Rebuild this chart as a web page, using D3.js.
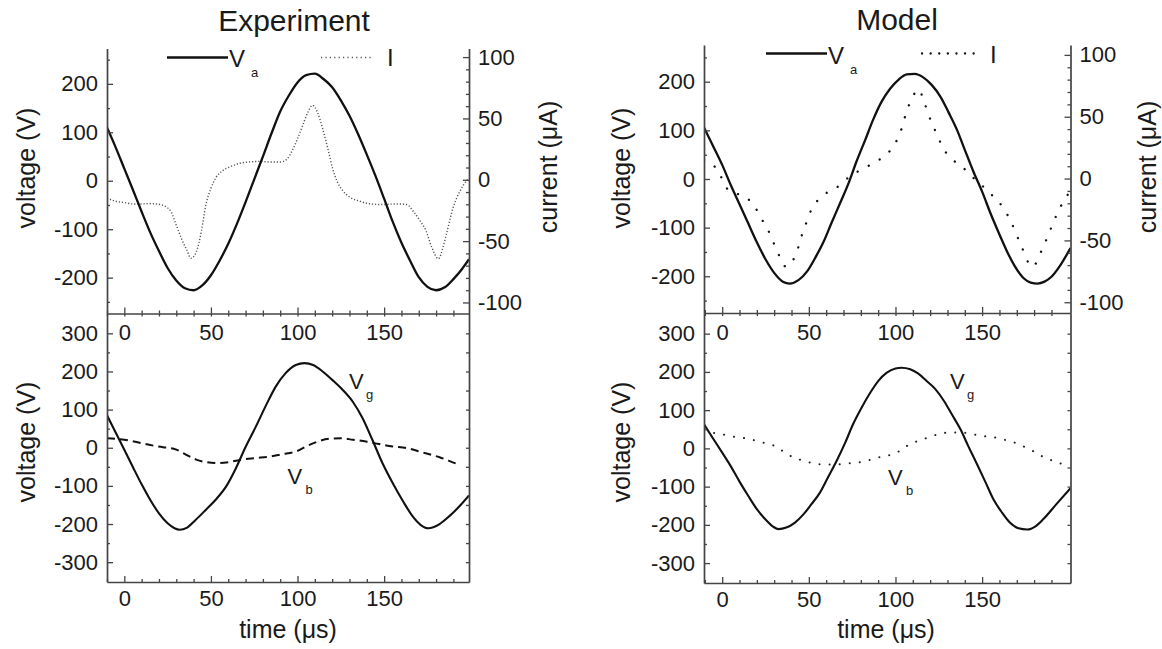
<!DOCTYPE html>
<html>
<head>
<meta charset="utf-8">
<script src="https://cdn.jsdelivr.net/npm/d3@7"></script>
<style>
  body { margin: 0; background: #fff; }
  svg text { font-family: "Liberation Sans", Arial, sans-serif; fill: #1a1a1a; }
  .axis path, .axis line { stroke: #444; }
  .axis .domain { stroke-width: 1.7; }
  .axis .tick line { stroke-width: 1.3; }
</style>
</head>
<body>
<svg id="chart" width="1162" height="649"></svg>
<script>
// tick values
const timeTicks = [0, 50, 100, 150];
const timeMinor = [-10, 10, 20, 30, 40, 60, 70, 80, 90, 110, 120, 130, 140, 160, 170, 180, 190];
const voltTicksTop = [-200, -100, 0, 100, 200];
const voltMinorTop = [-250, -150, -50, 50, 150, 250];
const currentTicks = [-100, -50, 0, 50, 100];
const currentMinor = [-90, -80, -70, -60, -40, -30, -20, -10, 10, 20, 30, 40, 60, 70, 80, 90];
const voltTicksBottom = [-300, -200, -100, 0, 100, 200, 300];
const voltMinorBottom = [-250, -150, -50, 50, 150, 250];

// Experiment: [time (us), value]
const expVa = [[-10,110],[-5,69],[0,25],[5,-19],[10,-64],[15,-107],[20,-145],[25,-180],[30,-206],[35,-222],[40,-226],[45,-216],[50,-195],[55,-165],[60,-130],[65,-89],[70,-44],[75,3],[80,50],[85,98],[90,143],[95,176],[100,203],[105,218],[110,221],[115,210],[120,193],[125,166],[130,134],[135,96],[140,54],[145,10],[150,-37],[155,-85],[160,-128],[165,-165],[170,-199],[175,-219],[180,-226],[185,-220],[190,-203],[195,-182],[199,-162]];
const expI = [[-10,-15],[-5,-17.5],[0,-18.6],[5,-19.7],[10,-19.7],[15,-19.4],[20,-20],[24,-22],[27,-26],[30,-37],[33,-48],[36,-57],[38.5,-64],[41.5,-59],[44.5,-42],[47,-21],[50,-7],[53,2],[57,7.7],[61,10.5],[66,13.2],[72,14.5],[78,15],[84,14.5],[90,14.5],[94,17],[97,24],[100,33.5],[103,44.4],[106,55],[108.7,60.7],[111.5,55],[114.5,41.7],[117.5,25.4],[120.3,9],[123,-1.8],[126,-8.6],[130,-14],[136,-17.5],[141,-19.4],[149,-20.2],[157,-19.7],[163,-20.2],[167,-26],[171,-34],[174,-41],[177.5,-55],[181.3,-64.4],[184,-55],[186,-44],[190,-22],[194,-8.7],[197.7,-0.6],[199,1]];
const expVg = [[-10,85],[-5,40],[0,-5],[5,-51],[10,-96],[15,-137],[20,-172],[25,-198],[29,-211],[32,-215],[36,-210],[41,-190],[47,-163],[53,-135],[59,-100],[64.5,-53],[70,2],[76,56],[82,113],[87.5,161],[93,195],[99,217],[104,222],[109,217],[114.5,200],[120,178],[126,152],[132,120],[137.5,78],[143,23],[149,-40],[155,-93],[161,-141],[166.5,-180],[171,-202],[175.5,-211],[182,-200],[188,-178],[194,-151],[199,-125]];
const expVb = [[-10,25],[0,21],[10,12],[19,3.5],[30,-5],[35.5,-18],[41.5,-31],[47,-37.5],[54,-40],[60.5,-37.5],[68,-31],[76,-27],[84,-23],[91,-17],[99,-10],[105,3.5],[111,15],[118,23.6],[125,25],[132,21],[139.5,16.6],[147,9.6],[155,3.5],[163,-1],[172,-12],[182,-25],[192,-42],[194,-45]];

// Model
const modVa = [[-10.5,106],[-5,66],[0,29],[5,-13],[10,-52],[15,-91],[20,-130],[25,-165],[30,-193],[35,-211],[39,-215],[44,-208],[49,-190],[54,-160],[58.5,-129],[63,-91],[68,-50],[73,-8],[77.5,36],[82.5,80],[87,121],[92,159],[97,186],[102,205],[106.5,215],[111,216],[116,209],[121,193],[126,169],[130.5,138],[135.5,101],[140,60],[145,15],[150,-26],[155,-72],[160,-114],[164.5,-150],[169,-180],[174,-204],[178,-213],[182,-215],[186,-211],[190,-201],[195,-178],[201,-142]];
const modI = [[-10.5,15],[-3.3,8],[4,-10],[8,-12],[15,-16.6],[20,-25.5],[23.7,-35],[27.2,-43.8],[30,-53],[33,-62.7],[36.8,-71.3],[41.4,-64.6],[43.9,-55.7],[46,-45.7],[48.4,-36.3],[50.7,-27.6],[54.5,-18.7],[61.3,-10.6],[67.6,-5.8],[73.8,2],[80.6,7.4],[86.9,12.3],[93.5,18.2],[99.3,27.1],[102.7,37],[106.6,55],[109.5,64.8],[113.3,72.1],[116.2,63.5],[118.5,54],[121,44.6],[124,35.7],[126.8,26.3],[131.6,17.1],[138.4,9.6],[145,0.5],[151,-7],[156.6,-14.7],[162.4,-24],[166.2,-33.6],[172,-52.4],[179,-71.3],[185,-56],[192.5,-31],[196.8,-18.8],[201,-10]];
const modVg = [[-10.5,63],[-5,24],[0,-11],[5,-47],[10,-87],[15,-124],[20,-159],[25,-186],[29.5,-205],[32.5,-211],[37,-207],[42,-194],[47,-172],[51.5,-146],[56.5,-115],[61,-76],[66,-33],[71,15],[75.5,63],[80.5,107],[85.5,146],[90,176],[95,198],[100,209],[103.5,211],[108.5,207],[113,196],[118,176],[123,155],[128,124],[132.5,89],[137.5,50],[142,6],[147,-41],[152,-89],[156.5,-133],[161.5,-168],[166,-194],[171,-209],[176,-212],[181,-203],[185.5,-184],[193,-145],[201,-104]];
const modVb = [[-10.5,42],[-4,40],[7,30],[13,26.6],[20,19.6],[25.5,12.6],[31.5,4],[37,-14],[43,-26.5],[49,-35],[54.5,-41],[60,-42],[66,-42],[73,-39],[78.5,-37],[84.5,-31],[90,-24],[97,-17],[102.5,-6.5],[107.5,9],[114,21],[120,30],[126,38.8],[131.5,41.4],[137.5,41.4],[143,38.8],[149,32.7],[155.5,30],[161.5,24],[167,18],[172,9],[179,-6],[184.5,-20.5],[190.5,-32],[196,-40.5],[200,-44]];

const curStyles = {
  exp: { stroke: '#555', width: 1.4, dash: '1.2 1.9', cap: 'butt' },
  mod: { stroke: '#111', width: 2.3, dash: '0.1 12.5', cap: 'round' }
};
const vbStyles = {
  exp: { stroke: '#111', width: 2, dash: '8 5', cap: 'butt' },
  mod: { stroke: '#222', width: 2, dash: '0.1 10', cap: 'round' }
};

const panels = [
  {
    id: 'exp', title: 'Experiment', titleX: 294, titleY: 30.5,
    left: 107, right: 469, top: 48.5, mid: 313.5, bottom: 582,
    tDomain: [-10, 199], vTop: [-274, 273], iDom: [-109, 107], vBot: [-352, 352],
    va: expVa, cur: expI, vg: expVg, vb: expVb,
    legend: { lineX: [167, 228], y: 57.5, vX: 229, vY: 66.5, subY: 77, dotX: [321, 373], iX: 387, iY: 65.5 },
    vgLab: [349, 388.5], vbLab: [287.5, 483.5],
    voltX: 26, curX: 547.5, timeX: 288
  },
  {
    id: 'mod', title: 'Model', titleX: 897, titleY: 29.5,
    left: 704, right: 1070.5, top: 45, mid: 313, bottom: 583,
    tDomain: [-10.5, 201], vTop: [-275.5, 275.5], iDom: [-108.7, 108], vBot: [-352, 354],
    va: modVa, cur: modI, vg: modVg, vb: modVb,
    legend: { lineX: [766, 827], y: 53.5, vX: 828, vY: 63.5, subY: 73.5, dotX: [922, 981], iX: 990, iY: 62.5 },
    vgLab: [950, 389], vbLab: [888, 484.5],
    voltX: 621, curX: 1147, timeX: 886
  }
];

const svg = d3.select('#chart');
const fontSans = '"Liberation Sans", Arial, sans-serif';

function styleAxis(g, size) {
  g.attr('class', 'axis').attr('font-size', size).attr('font-family', fontSans);
}

function minorAxis(axis) {
  return g => {
    g.call(axis.tickSize(-3).tickSizeOuter(0).tickFormat(''));
    g.select('.domain').remove();
    g.attr('class', 'axis');
  };
}

function drawText(x, y, str, size, anchor) {
  return svg.append('text')
    .attr('x', x).attr('y', y)
    .attr('font-size', size)
    .attr('text-anchor', anchor || 'start')
    .text(str);
}

function drawPanel(p) {
  const x = d3.scaleLinear().domain(p.tDomain).range([p.left, p.right]);
  const yV = d3.scaleLinear().domain(p.vTop).range([p.mid, p.top]);
  const yI = d3.scaleLinear().domain(p.iDom).range([p.mid, p.top]);
  const yB = d3.scaleLinear().domain(p.vBot).range([p.bottom, p.mid]);

  const defs = svg.append('defs');
  defs.append('clipPath').attr('id', `clip-top-${p.id}`)
    .append('rect').attr('x', p.left).attr('y', p.top)
    .attr('width', p.right - p.left).attr('height', p.mid - p.top);
  defs.append('clipPath').attr('id', `clip-bot-${p.id}`)
    .append('rect').attr('x', p.left).attr('y', p.mid)
    .attr('width', p.right - p.left).attr('height', p.bottom - p.mid);

  const lineV = d3.line().x(d => x(d[0])).y(d => yV(d[1])).curve(d3.curveMonotoneX);
  const lineI = d3.line().x(d => x(d[0])).y(d => yI(d[1])).curve(d3.curveMonotoneX);
  const lineB = d3.line().x(d => x(d[0])).y(d => yB(d[1])).curve(d3.curveMonotoneX);

  const cs = curStyles[p.id];
  const bs = vbStyles[p.id];

  const top = svg.append('g').attr('clip-path', `url(#clip-top-${p.id})`);
  top.append('path').datum(p.cur)
    .attr('d', lineI).attr('fill', 'none')
    .attr('stroke', cs.stroke).attr('stroke-width', cs.width)
    .attr('stroke-dasharray', cs.dash).attr('stroke-linecap', cs.cap);
  top.append('path').datum(p.va)
    .attr('d', lineV).attr('fill', 'none')
    .attr('stroke', '#111').attr('stroke-width', 2.3);

  const bot = svg.append('g').attr('clip-path', `url(#clip-bot-${p.id})`);
  bot.append('path').datum(p.vb)
    .attr('d', lineB).attr('fill', 'none')
    .attr('stroke', bs.stroke).attr('stroke-width', bs.width)
    .attr('stroke-dasharray', bs.dash).attr('stroke-linecap', bs.cap);
  bot.append('path').datum(p.vg)
    .attr('d', lineB).attr('fill', 'none')
    .attr('stroke', '#111').attr('stroke-width', 2.1);

  // top plot axes
  svg.append('g').attr('transform', `translate(${p.left},0)`)
    .call(minorAxis(d3.axisLeft(yV).tickValues(voltMinorTop)));
  svg.append('g').attr('transform', `translate(${p.left},0)`)
    .call(d3.axisLeft(yV).tickValues(voltTicksTop).tickSize(-6).tickSizeOuter(0)
      .tickPadding(9).tickFormat(d => String(d)))
    .call(g => styleAxis(g, 22));

  svg.append('g').attr('transform', `translate(${p.right},0)`)
    .call(minorAxis(d3.axisRight(yI).tickValues(currentMinor)));
  svg.append('g').attr('transform', `translate(${p.right},0)`)
    .call(d3.axisRight(yI).tickValues(currentTicks).tickSize(-6).tickSizeOuter(0)
      .tickPadding(9).tickFormat(d => String(d)))
    .call(g => styleAxis(g, 22));

  svg.append('g').attr('transform', `translate(0,${p.mid})`)
    .call(minorAxis(d3.axisBottom(x).tickValues(timeMinor)));
  svg.append('g').attr('transform', `translate(0,${p.mid})`)
    .call(d3.axisBottom(x).tickValues(timeTicks).tickSize(-6).tickSizeOuter(0)
      .tickPadding(11).tickFormat(d => String(d)))
    .call(g => styleAxis(g, 22));

  // bottom plot axes
  svg.append('g').attr('transform', `translate(0,${p.mid})`)
    .call(minorAxis(d3.axisTop(x).tickValues(timeMinor)));
  svg.append('g').attr('transform', `translate(0,${p.mid})`)
    .call(minorAxis(d3.axisTop(x).tickValues(timeTicks)));

  svg.append('g').attr('transform', `translate(${p.left},0)`)
    .call(minorAxis(d3.axisLeft(yB).tickValues(voltMinorBottom)));
  svg.append('g').attr('transform', `translate(${p.left},0)`)
    .call(d3.axisLeft(yB).tickValues(voltTicksBottom).tickSize(-6).tickSizeOuter(0)
      .tickPadding(9).tickFormat(d => String(d)))
    .call(g => styleAxis(g, 22));

  svg.append('g').attr('transform', `translate(${p.right},0)`)
    .call(minorAxis(d3.axisRight(yB).tickValues(voltMinorBottom.concat(voltTicksBottom))));
  svg.append('g').attr('transform', `translate(${p.right},0)`)
    .call(d3.axisRight(yB).tickValues([]).tickSizeOuter(0))
    .call(g => styleAxis(g, 22));

  svg.append('g').attr('transform', `translate(0,${p.bottom})`)
    .call(minorAxis(d3.axisBottom(x).tickValues(timeMinor)));
  svg.append('g').attr('transform', `translate(0,${p.bottom})`)
    .call(d3.axisBottom(x).tickValues(timeTicks).tickSize(-6).tickSizeOuter(0)
      .tickPadding(8).tickFormat(d => String(d)))
    .call(g => styleAxis(g, 22));

  // titles and axis labels
  drawText(p.titleX, p.titleY, p.title, 30, 'middle');

  svg.append('text')
    .attr('transform', `translate(${p.voltX},168) rotate(-90)`)
    .attr('text-anchor', 'middle').attr('dominant-baseline', 'central')
    .attr('font-size', 25).text('voltage (V)');
  svg.append('text')
    .attr('transform', `translate(${p.voltX},442) rotate(-90)`)
    .attr('text-anchor', 'middle').attr('dominant-baseline', 'central')
    .attr('font-size', 25).text('voltage (V)');
  svg.append('text')
    .attr('transform', `translate(${p.curX},167) rotate(-90)`)
    .attr('text-anchor', 'middle').attr('dominant-baseline', 'central')
    .attr('font-size', 25).text('current (\u03bcA)');
  drawText(p.timeX, 638, 'time (\u03bcs)', 25, 'middle');

  // legend
  const lg = p.legend;
  svg.append('line')
    .attr('x1', lg.lineX[0]).attr('x2', lg.lineX[1])
    .attr('y1', lg.y).attr('y2', lg.y)
    .attr('stroke', '#111').attr('stroke-width', 2.3);
  drawText(lg.vX, lg.vY, 'V', 24);
  drawText(lg.vX + 22, lg.subY, 'a', 13);
  svg.append('line')
    .attr('x1', lg.dotX[0]).attr('x2', lg.dotX[1])
    .attr('y1', lg.y).attr('y2', lg.y)
    .attr('stroke', cs.stroke).attr('stroke-width', cs.width)
    .attr('stroke-dasharray', p.id === 'exp' ? '1.2 3.2' : '0.1 8.5')
    .attr('stroke-linecap', cs.cap);
  drawText(lg.iX, lg.iY, 'I', 24);

  // curve labels
  drawText(p.vgLab[0], p.vgLab[1], 'V', 22);
  drawText(p.vgLab[0] + 17, p.vgLab[1] + 10, 'g', 13);
  drawText(p.vbLab[0], p.vbLab[1], 'V', 22);
  drawText(p.vbLab[0] + 18, p.vbLab[1] + 10, 'b', 13);
}

panels.forEach(drawPanel);
</script>
</body>
</html>
